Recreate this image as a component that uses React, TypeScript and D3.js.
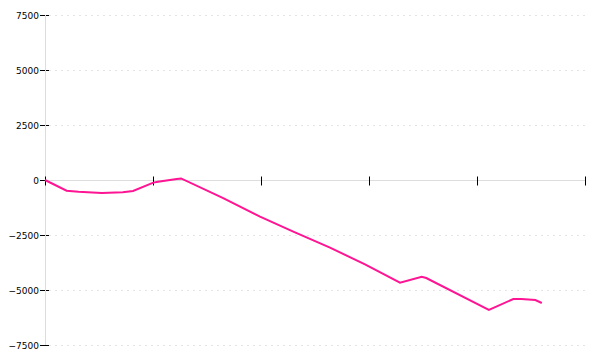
import React from "react";
import * as d3 from "d3";

const xValues = [0, 2, 3.1, 5.25, 7.2, 8.15, 10.03, 10.46, 12.2, 12.6, 16.5, 19.91, 22.99, 26.39, 29.63, 32.87, 34.88, 35.3, 41.1, 43.36, 44.1, 45.4, 46];
const yValues = [0, -486, -530, -590, -560, -500, -120, -75, 45, 70, -820, -1668, -2350, -3077, -3832, -4668, -4395, -4455, -5909, -5409, -5409, -5455, -5590];
const yTicks = [-7500, -5000, -2500, 0, 2500, 5000, 7500];
const xTicks = [0, 10, 20, 30, 40, 50];

const W = 600;
const H = 360;

export default function App() {
  const x = d3.scaleLinear().domain([0, 50]).range([45, 585]);
  const y = d3.scaleLinear().domain([-7500, 7500]).range([345, 15]);
  const fmt = d3.format("");
  const data = xValues.map((v, i) => [v, yValues[i]] as [number, number]);
  const line = d3
    .line<[number, number]>()
    .x((d) => x(d[0]))
    .y((d) => y(d[1]));
  const y0 = Math.round(y(0)) + 0.5;
  const xa = Math.round(x(0)) + 0.5;
  return (
    <svg
      width={W}
      height={H}
      style={{ position: "absolute", left: 0, top: 0, background: "#fff" }}
    >
      {yTicks.map((t) => {
        const py = Math.round(y(t)) + 0.5;
        return (
          <g key={t}>
            {t !== 0 && (
              <line x1={49} x2={585} y1={py} y2={py} stroke="#e4e4e4" strokeDasharray="2,4" />
            )}
            <line x1={40} x2={49} y1={py} y2={py} stroke="#000" />
            <text
              x={39}
              y={py}
              textAnchor="end"
              dominantBaseline="central"
              fontFamily="DejaVu Sans"
              fontSize={9}
              fill="#000"
            >
              {fmt(t)}
            </text>
          </g>
        );
      })}
      <line x1={xa} x2={xa} y1={y(7500)} y2={y(-7500)} stroke="#ddd" />
      <line x1={x(0)} x2={x(50)} y1={y0} y2={y0} stroke="#ddd" />
      {xTicks.map((t) => {
        const px = Math.round(x(t)) + 0.5;
        return <line key={t} x1={px} x2={px} y1={y0 - 4} y2={y0 + 5} stroke="#000" />;
      })}
      <path d={line(data) || ""} fill="none" stroke="#ff1493" strokeWidth={2} />
    </svg>
  );
}
